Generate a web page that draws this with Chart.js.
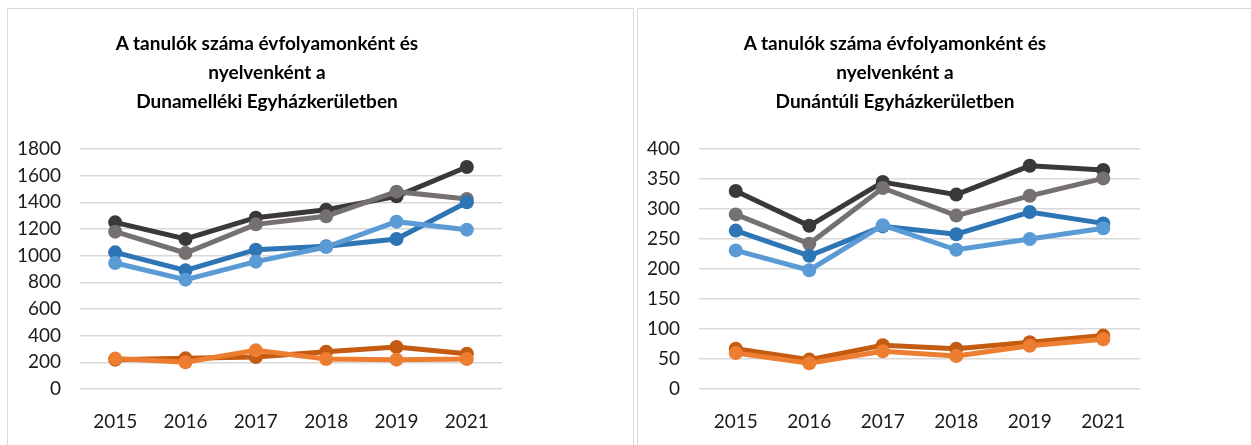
<!DOCTYPE html>
<html>
<head>
<meta charset="utf-8">
<script src="https://cdn.jsdelivr.net/npm/chart.js@4"></script>
<style>
  html, body { margin:0; padding:0; background:#fff; }
  body { width:1251px; height:445px; position:relative; overflow:hidden; }
  .panel { position:absolute; top:8px; height:460px; border:1px solid #d9d9d9; border-right:none; box-sizing:border-box; }
  #p1 { left:7px; width:627px; border-right:1px solid #d9d9d9; }
  #p2 { left:637px; width:620px; }
  .box { position:absolute; top:0; height:445px; }
  #b1 { left:7px; width:520px; }
  #b2 { left:637px; width:516px; }
  .title { position:absolute; top:28px; width:500px; text-align:center;
           font:bold 19px Lato, "Open Sans", sans-serif; line-height:29px; color:#000; }
  #t1 { left:17px; }
  #t2 { left:645px; }
</style>
</head>
<body>
<div class="panel" id="p1"></div>
<div class="panel" id="p2"></div>
<div class="box" id="b1"><canvas id="chart1"></canvas></div>
<div class="box" id="b2"><canvas id="chart2"></canvas></div>
<div class="title" id="t1">A tanulók száma évfolyamonként és<br>nyelvenként a<br>Dunamelléki Egyházkerületben</div>
<div class="title" id="t2">A tanulók száma évfolyamonként és<br>nyelvenként a<br>Dunántúli Egyházkerületben</div>
<script>
// — categories (years) —
const years = ['2015', '2016', '2017', '2018', '2019', '2021'];

// — Dunamelléki Egyházkerület —
const dmLightBlue  = [945, 820, 955, 1065, 1255, 1195];
const dmBlue       = [1025, 890, 1045, 1070, 1125, 1400];
const dmOrange     = [228, 200, 290, 225, 220, 225];
const dmDarkOrange = [220, 230, 240, 280, 315, 265];
const dmGray       = [1180, 1020, 1235, 1295, 1480, 1425];
const dmDark       = [1250, 1125, 1285, 1345, 1445, 1665];
const dmTicks      = [0, 200, 400, 600, 800, 1000, 1200, 1400, 1600, 1800];

// — Dunántúli Egyházkerület —
const dtLightBlue  = [231, 198, 273, 232, 250, 268];
const dtBlue       = [264, 222, 271, 258, 295, 276];
const dtOrange     = [60, 43, 63, 55, 72, 83];
const dtDarkOrange = [67, 49, 73, 67, 78, 89];
const dtGray       = [291, 242, 335, 289, 322, 351];
const dtDark       = [330, 272, 345, 324, 372, 365];
const dtTicks      = [0, 50, 100, 150, 200, 250, 300, 350, 400];

const colors = ['#5b9bd5', '#2e75b6', '#ed7d31', '#c55a11', '#767171', '#3a3838'];
const FONT = 'Lato, "Open Sans", sans-serif';

function makeSets(series) {
  return series.map((data, i) => ({
    label: 'Sorozat ' + (i + 1),
    data,
    borderColor: colors[i],
    backgroundColor: colors[i],
    borderWidth: 5,
    pointRadius: 7,
    pointHoverRadius: 7,
    pointBorderWidth: 0,
    tension: 0
  }));
}

function drawChart(id, series, yTicks, yWidth, padRight) {
  const ctx = document.getElementById(id).getContext('2d');
  return new Chart(ctx, {
    type: 'line',
    data: { labels: years, datasets: makeSets(series) },
    options: {
      responsive: true,
      maintainAspectRatio: false,
      animation: false,
      layout: { padding: { top: 149, right: padRight, bottom: 0, left: 0 } },
      plugins: {
        legend: { display: false },
        tooltip: { enabled: false },
        title: { display: false }
      },
      scales: {
        x: {
          offset: true,
          afterFit: s => { s.height = 56; },
          grid: { display: false },
          border: { display: false },
          ticks: { color: '#1a1a1a', font: { family: FONT, size: 19 }, padding: 13 }
        },
        y: {
          min: yTicks[0], max: yTicks[yTicks.length - 1],
          afterFit: s => { s.width = yWidth; },
          afterBuildTicks: s => { s.ticks = yTicks.map(v => ({ value: v })); },
          grid: { color: '#d9d9d9', lineWidth: 1.5, drawTicks: false },
          border: { display: false },
          ticks: { autoSkip: false, color: '#1a1a1a', font: { family: FONT, size: 19 }, padding: 19,
                   callback: v => String(v) }
        }
      }
    }
  });
}

drawChart('chart1', [dmLightBlue, dmBlue, dmOrange, dmDarkOrange, dmGray, dmDark], dmTicks, 73, 25);
drawChart('chart2', [dtLightBlue, dtBlue, dtOrange, dtDarkOrange, dtGray, dtDark], dtTicks, 62, 13);
</script>
</body>
</html>
